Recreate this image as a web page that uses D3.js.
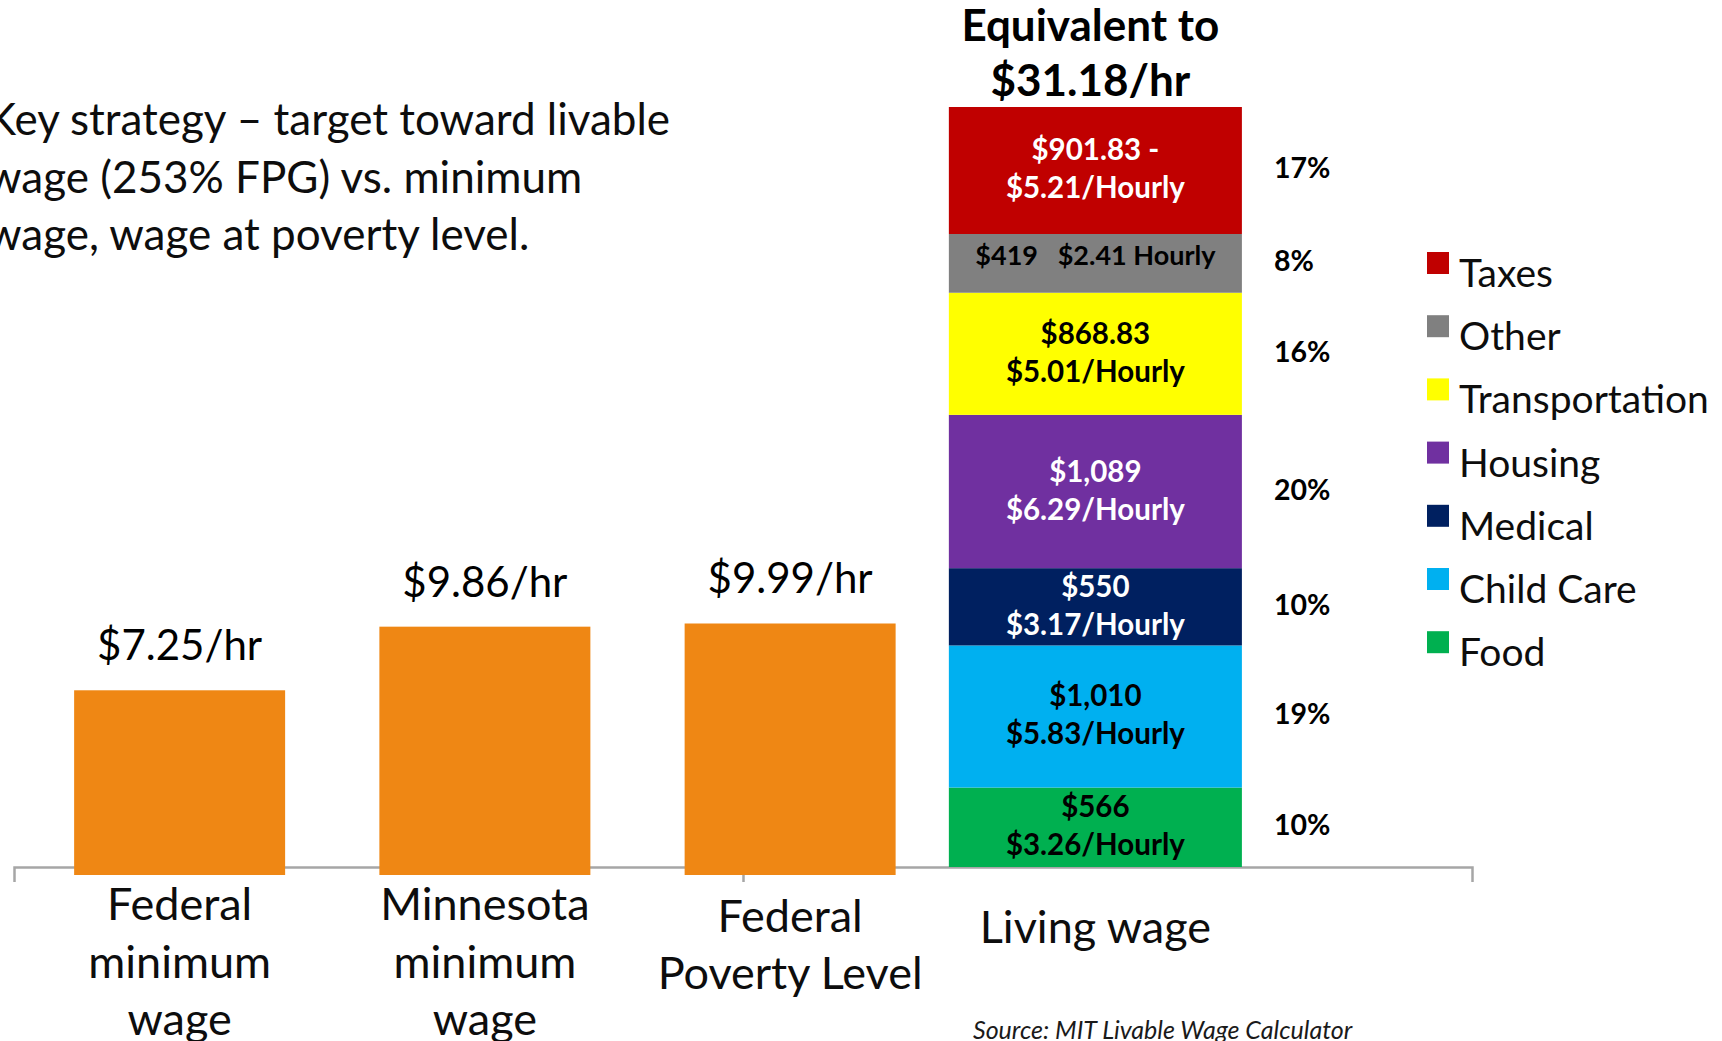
<!DOCTYPE html>
<html>
<head>
<meta charset="utf-8">
<script src="https://cdn.jsdelivr.net/npm/d3@7"></script>
<style>
  html, body { margin: 0; padding: 0; background: #fff; overflow: hidden; }
  svg { display: block; font-family: Lato, "Open Sans", sans-serif; }
</style>
</head>
<body>
<div id="chart"></div>
<script>
// categories along the bottom, one line array per label
let categories = ['Federal minimum wage', 'Minnesota minimum wage', 'Federal Poverty Level', 'Living wage'];
let categoryLines = [
  ['Federal', 'minimum', 'wage'],
  ['Minnesota', 'minimum', 'wage'],
  ['Federal', 'Poverty Level'],
  ['Living wage']
];

// hourly wage bars (first three categories)
let wageValues = [7.25, 9.86, 9.99];
let wageLabels = ['$7.25/hr', '$9.86/hr', '$9.99/hr'];

// living wage breakdown, bottom of the stack first
let expenseNames = ['Food', 'Child Care', 'Medical', 'Housing', 'Transportation', 'Other', 'Taxes'];
let expenseHourly = [3.26, 5.83, 3.17, 6.29, 5.01, 2.41, 5.21];
let expenseLabels = [
  ['$566', '$3.26/Hourly'],
  ['$1,010', '$5.83/Hourly'],
  ['$550', '$3.17/Hourly'],
  ['$1,089', '$6.29/Hourly'],
  ['$868.83', '$5.01/Hourly'],
  ['$419   $2.41 Hourly'],
  ['$901.83 -', '$5.21/Hourly']
];
let expenseShare = ['10%', '19%', '10%', '20%', '16%', '8%', '17%'];
let expenseColors = ['#00b050', '#00b0f0', '#002060', '#7030a0', '#ffff00', '#808080', '#c00000'];

let livingWageTitle = ['Equivalent to', '$31.18/hr'];
let noteLines = ['Key strategy \u2013 target toward livable', 'wage (253% FPG) vs. minimum', 'wage, wage at poverty level.'];
let sourceText = 'Source: MIT Livable Wage Calculator';

let width = 1722, height = 1041;
let baseY = 867;

let svg = d3.select('#chart').append('svg')
  .attr('width', width)
  .attr('height', height);

let total = d3.sum(expenseHourly);

let x = d3.scaleBand()
  .domain(categories)
  .range([27, 1248])
  .paddingInner(0.04)
  .paddingOuter(0.02);

let y = d3.scaleLinear()
  .domain([0, total])
  .range([baseY, 107]);

// axis line with end ticks and one middle tick
let axisScale = d3.scaleLinear().domain([0, 2]).range([14, 1472]);
let axis = svg.append('g')
  .attr('transform', 'translate(0,' + baseY + ')')
  .call(d3.axisBottom(axisScale).tickValues([1]).tickSize(15).tickSizeOuter(15).tickFormat(''));
axis.selectAll('path, line').attr('stroke', '#a6a6a6').attr('stroke-width', 2.5);

// orange wage bars
let wageCats = categories.slice(0, wageValues.length);
let barW = x.bandwidth() * 0.72;

svg.selectAll('.wage-bar')
  .data(wageValues)
  .enter()
  .append('rect')
  .attr('class', 'wage-bar')
  .attr('fill', '#ef8714')
  .attr('x', (d, i) => x(wageCats[i]) + (x.bandwidth() - barW) / 2)
  .attr('y', d => y(d))
  .attr('width', barW)
  .attr('height', d => y(0) - y(d) + 8);

svg.selectAll('.wage-label')
  .data(wageValues)
  .enter()
  .append('text')
  .attr('class', 'wage-label')
  .attr('x', (d, i) => x(wageCats[i]) + x.bandwidth() / 2)
  .attr('y', d => y(d) - 30)
  .attr('text-anchor', 'middle')
  .attr('font-size', 42)
  .attr('fill', '#000')
  .text((d, i) => wageLabels[i]);

// stacked living wage bar
let row = {};
expenseNames.forEach((n, i) => { row[n] = expenseHourly[i]; });
let series = d3.stack().keys(expenseNames)([row]);
let lw = categories[3];
let lx = x(lw), lcx = lx + x.bandwidth() / 2;

let seg = svg.selectAll('.seg')
  .data(series)
  .enter()
  .append('g')
  .attr('class', 'seg');

seg.append('rect')
  .attr('x', lx)
  .attr('y', d => y(d[0][1]))
  .attr('width', x.bandwidth())
  .attr('height', d => y(d[0][0]) - y(d[0][1]))
  .attr('fill', (d, i) => expenseColors[i]);

seg.each(function (d, i) {
  let g = d3.select(this);
  let mid = (y(d[0][0]) + y(d[0][1])) / 2;
  let lines = expenseLabels[i];
  let txtColor = d3.lab(expenseColors[i]).l > 50 ? '#000' : '#fff';
  lines.forEach((line, j) => {
    let single = lines.length === 1;
    g.append('text')
      .attr('x', lcx)
      .attr('y', single ? mid + 2 : mid - 10 + j * 38)
      .attr('text-anchor', 'middle')
      .attr('font-size', single ? 27 : 29.5)
      .attr('font-weight', 'bold')
      .attr('fill', txtColor)
      .style('white-space', 'pre')
      .text(line);
  });
  g.append('text')
    .attr('x', lx + x.bandwidth() + 32)
    .attr('y', mid + 8)
    .attr('font-size', 28.5)
    .attr('font-weight', 'bold')
    .attr('fill', '#000')
    .text(expenseShare[i]);
});

// title above the stack
svg.selectAll('.lw-title')
  .data(livingWageTitle)
  .enter()
  .append('text')
  .attr('class', 'lw-title')
  .attr('x', lcx - 5)
  .attr('y', (d, i) => y(total) - 66 + i * 55)
  .attr('text-anchor', 'middle')
  .attr('font-size', 44)
  .attr('font-weight', 'bold')
  .attr('fill', '#000')
  .text(d => d);

// category labels
categories.forEach((c, i) => {
  let lines = categoryLines[i];
  let y0 = 920 + (3 - lines.length) * 11.5;
  svg.append('g').selectAll('text')
    .data(lines)
    .enter()
    .append('text')
    .attr('x', x(c) + x.bandwidth() / 2)
    .attr('y', (d, j) => y0 + j * 57.5)
    .attr('text-anchor', 'middle')
    .attr('font-size', 45)
    .attr('fill', '#0d0d0d')
    .text(d => d);
});

// legend, top of stack first
let legend = svg.append('g').attr('transform', 'translate(1427,252)');
let legendNames = expenseNames.slice().reverse();
let legendColors = expenseColors.slice().reverse();

let item = legend.selectAll('.item')
  .data(legendNames)
  .enter()
  .append('g')
  .attr('transform', (d, i) => 'translate(0,' + (i * 63.2) + ')');

item.append('rect')
  .attr('width', 22)
  .attr('height', 22)
  .attr('fill', (d, i) => legendColors[i]);

item.append('text')
  .attr('x', 32)
  .attr('y', 35)
  .attr('font-size', 39)
  .attr('fill', '#0d0d0d')
  .text(d => d);

// note text on the left (runs off the left edge)
svg.selectAll('.note')
  .data(noteLines)
  .enter()
  .append('text')
  .attr('class', 'note')
  .attr('x', -13)
  .attr('y', (d, i) => 135 + i * 57.5)
  .attr('font-size', 44)
  .attr('fill', '#0d0d0d')
  .text(d => d);

svg.append('text')
  .attr('x', 973)
  .attr('y', 1039)
  .attr('font-size', 25)
  .attr('font-style', 'italic')
  .attr('fill', '#1a1a1a')
  .text(sourceText);
</script>
</body>
</html>
